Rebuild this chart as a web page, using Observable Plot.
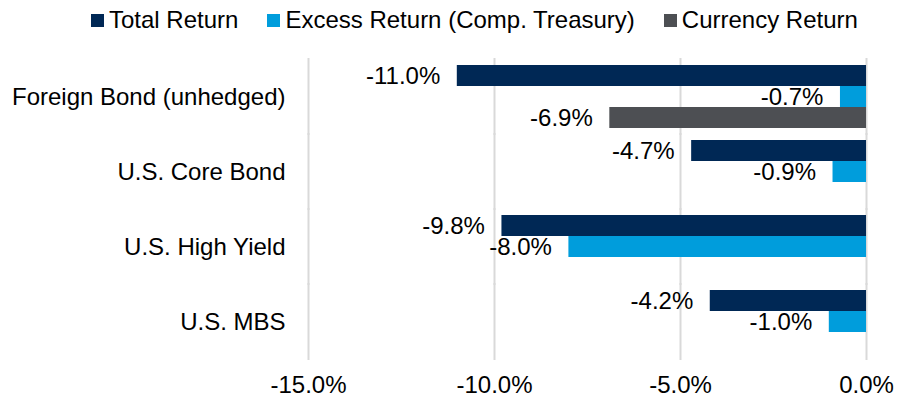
<!DOCTYPE html>
<html>
<head>
<meta charset="utf-8">
<script src="https://cdn.jsdelivr.net/npm/d3@7"></script>
<script src="https://cdn.jsdelivr.net/npm/@observablehq/plot@0.6"></script>
<style>
  html, body { margin: 0; padding: 0; background: #fff; }
  body { width: 898px; height: 400px; overflow: hidden; font-family: "Liberation Sans", Arial, sans-serif; }
  #legend { display: flex; align-items: center; height: 40px; padding-left: 91px; gap: 29px; font-size: 24px; color: #000; box-sizing: border-box; }
  #legend .item { display: flex; align-items: center; white-space: nowrap; }
  #legend .sw { width: 13px; height: 13px; margin-right: 5px; }
  #chart svg { display: block; }
</style>
</head>
<body>
<div id="legend"></div>
<div id="chart"></div>
<script>
const categories = ["Foreign Bond (unhedged)", "U.S. Core Bond", "U.S. High Yield", "U.S. MBS"];
const seriesNames = ["Total Return", "Excess Return (Comp. Treasury)", "Currency Return"];
const seriesColors = ["#002855", "#009DDC", "#4D4F53"];
const totalReturn = [-11.0, -4.7, -9.8, -4.2];
const excessReturn = [-0.7, -0.9, -8.0, -1.0];
const currencyReturn = [-6.9, null, null, null];
const xTicks = [-15, -10, -5, 0];

const seriesValues = [totalReturn, excessReturn, currencyReturn];
const rows = [];
categories.forEach((c, i) => {
  seriesNames.forEach((s, j) => {
    const v = seriesValues[j][i];
    if (v !== null && v !== undefined) rows.push({category: c, series: s, value: v});
  });
});

// Legend
const legend = document.getElementById("legend");
seriesNames.forEach((s, j) => {
  const item = document.createElement("div");
  item.className = "item";
  const sw = document.createElement("span");
  sw.className = "sw";
  sw.style.background = seriesColors[j];
  const t = document.createElement("span");
  t.textContent = s;
  item.appendChild(sw);
  item.appendChild(t);
  legend.appendChild(item);
});

const fmt = d => d.toFixed(1) + "%";

const chart = Plot.plot({
  width: 898,
  height: 360,
  marginTop: 17,
  marginBottom: 40,
  marginLeft: 308,
  marginRight: 32,
  style: {fontFamily: "'Liberation Sans', Arial, sans-serif", fontSize: "24px", color: "#000", background: "#fff", overflow: "visible"},
  x: {domain: [-15, 0], ticks: xTicks, tickFormat: fmt, tickSize: 0, tickPadding: 21, label: null},
  y: {domain: seriesNames, axis: null, padding: 0},
  fy: {domain: categories, axis: "left", label: null, tickSize: 0, tickPadding: 23, paddingInner: 0.14, paddingOuter: 0.07},
  color: {domain: seriesNames, range: seriesColors},
  marks: [
    Plot.ruleX(xTicks, {stroke: "#D9D9D9", strokeWidth: 2, insetTop: -6, insetBottom: -6}),
    Plot.barX(rows, {x: "value", y: "series", fy: "category", fill: "series"}),
    Plot.text(rows, {x: "value", y: "series", fy: "category", text: d => fmt(d.value), textAnchor: "end", dx: -17, fill: "#000"})
  ]
});
document.getElementById("chart").appendChild(chart);
</script>
</body>
</html>
